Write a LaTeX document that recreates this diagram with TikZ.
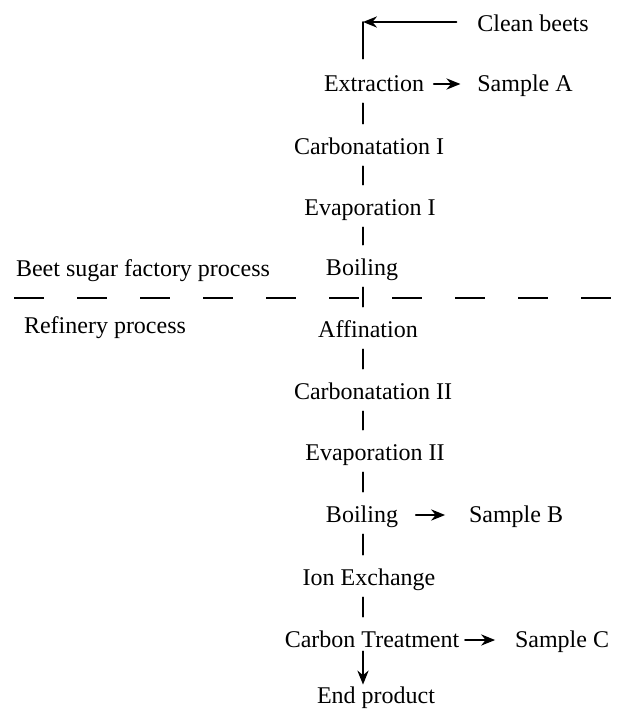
\documentclass[tikz,border=0pt]{standalone}
\usepackage{fontspec}
\setmainfont{Liberation Serif}
\usetikzlibrary{arrows.meta}
\begin{document}
\begin{tikzpicture}[x=0.5pt, y=-0.5pt, font=\fontsize{12}{14}\selectfont, line join=round, line cap=round, >={Stealth[length=7pt,width=5.6pt]}, line width=0.9pt,
	txt/.style={inner sep=0pt, text height=8pt, text depth=2.5pt},
	link/.style={shorten <=3pt, shorten >=7pt}]
	\useasboundingbox (0,0) rectangle (618,711);
	\coordinate (spine) at (363,0);
	% beet sugar factory
	\node[txt] (beets) at (533,26) {Clean beets};
	\node[txt] (extr) at (374,86) {Extraction};
	\node[txt] (sampA) at (525,86) {Sample A};
	\node[txt] (carb1) at (369,149) {Carbonatation I};
	\node[txt] (evap1) at (370,210) {Evaporation I};
	\node[txt] (boil1) at (362,270) {Boiling};
	\node[txt] (factory) at (143,271) {Beet sugar factory process};
	% refinery
	\node[txt] (refin) at (105,328) {Refinery process};
	\node[txt] (affin) at (368,332) {Affination};
	\node[txt] (carb2) at (373,394) {Carbonatation II};
	\node[txt] (evap2) at (375,455) {Evaporation II};
	\node[txt] (boil2) at (362,517) {Boiling};
	\node[txt] (sampB) at (516,517) {Sample B};
	\node[txt] (ion) at (369,580) {Ion Exchange};
	\node[txt] (carbT) at (372,642) {Carbon Treatment};
	\node[txt] (sampC) at (562,642) {Sample C};
	\node[txt] (endp) at (376,698) {End product};
	\draw[dash pattern=on 15pt off 16.5pt, line width=0.6pt, line cap=butt] (14,298)--(618,298);
	\draw[shorten >=8pt] ([yshift=2pt]beets.west -| spine) -- (extr.north -| spine);
	\draw[->, shorten <=10pt] ([yshift=2pt]beets.west) -- ([yshift=2pt]beets.west -| spine);
	\foreach \a/\b in {extr/carb1,carb1/evap1,evap1/boil1,boil1/affin,affin/carb2,carb2/evap2,evap2/boil2,boil2/ion,ion/carbT}
		\draw[link] (\a.south -| spine) -- (\b.north -| spine);
	\draw[->, shorten <=-1pt, shorten >=1pt] (carbT.south -| spine) -- (endp.north -| spine);
	\draw[->, shorten <=4.5pt, shorten >=8pt] ([yshift=1pt]extr.east) -- ([yshift=1pt]sampA.west);
	\draw[->, shorten <=8.5pt, shorten >=11.5pt] ([yshift=1pt]boil2.east) -- ([yshift=1pt]sampB.west);
	\draw[->, shorten <=2.5pt, shorten >=9.5pt] ([yshift=1pt]carbT.east) -- ([yshift=1pt]sampC.west);
\end{tikzpicture}
\end{document}
